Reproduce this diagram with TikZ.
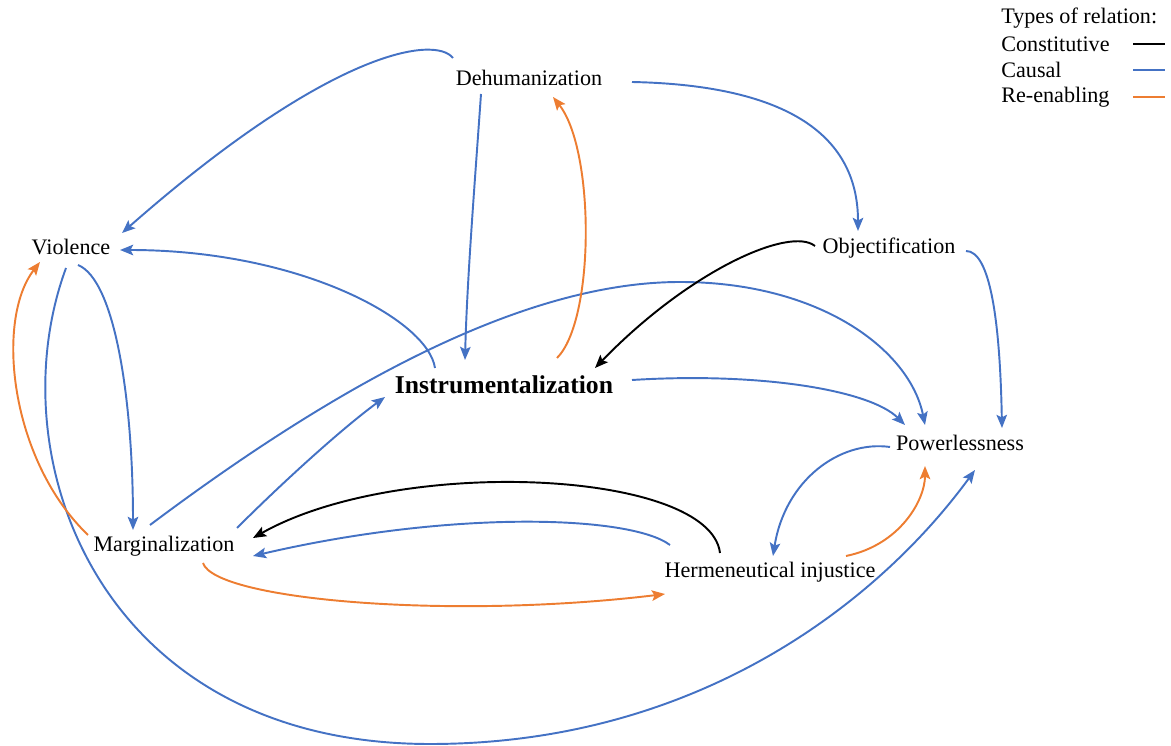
\documentclass[tikz,border=0pt]{standalone}
\usepackage{fontspec}
\setmainfont{Liberation Serif}
\usepackage{tikz}
\usetikzlibrary{positioning,arrows.meta}
\usepackage{xcolor}
\definecolor{causblue}{RGB}{68,114,196}
\definecolor{reorange}{RGB}{237,125,49}

\begin{document}
\begin{tikzpicture}[x=0.02cm,y=-0.02cm,
    lbl/.style={inner sep=0pt,font=\fontsize{12.6}{15}\selectfont},
    causal/.style={line width=1.1pt,causblue,-{Stealth[length=7.5pt,width=6pt,inset=1.5pt]}},
    constit/.style={line width=1.1pt,black,-{Stealth[length=7.5pt,width=6pt,inset=1.5pt]}},
    reenab/.style={line width=1.1pt,reorange,-{Stealth[length=7.5pt,width=6pt,inset=1.5pt]}}]
        \useasboundingbox (0,0) rectangle (1171,746);
        \node[lbl] (dehum) at (529,78) {Dehumanization};
        \node[lbl] (viol) at (71,247) {Violence};
        \node[lbl] (obj) at (889,248) {Objectification};
        \node[lbl,font=\fontsize{14.6}{17}\selectfont\bfseries] (inst) at (504,385) {Instrumentalization};
        \node[lbl] (pow) at (960,443) {Powerlessness};
        \node[lbl] (marg) at (164,546) {Marginalization};
        \node[lbl] (herm) at (770,572) {Hermeneutical injustice};
        % legend
        \node[lbl,anchor=west] (ltitle) at (1001,18) {Types of relation:};
        \node[lbl,anchor=west] (lconst) at (1001,44) {Constitutive};
        \node[lbl,anchor=west] (lcaus) at (1001,70) {Causal};
        \node[lbl,anchor=west] (lreen) at (1001,97) {Re-enabling};
        \draw[line width=1.1pt,black] (1133,44) -- (1165,44);
        \draw[line width=1.1pt,causblue] (1133,70) -- (1165,70);
        \draw[line width=1.1pt,reorange] (1133,97) -- (1165,97);
        % causal
        \draw[causal] ([shift={(-76,-20)}]dehum.center) .. controls +(-18,-23) and +(208,-183) .. ([shift={(51,-14)}]viol.center);
        \draw[causal] ([shift={(-48,16)}]dehum.center) .. controls +(-6,86) and +(2,-80) .. ([shift={(-39,-25)}]inst.center);
        \draw[causal] ([shift={(103,4)}]dehum.center) .. controls +(148,3) and +(0,-100) .. ([shift={(-31,-17)}]obj.center);
        \draw[causal] ([shift={(-69,-17)}]inst.center) .. controls +(-7,-48) and +(180,0) .. ([shift={(49,3)}]viol.center);
        \draw[causal] ([shift={(7,18)}]viol.center) .. controls +(37,15) and +(0,-130) .. ([shift={(-31,-16)}]marg.center);
        \draw[causal] ([shift={(-5,21)}]viol.center) .. controls +(-70,190) and +(-330,0) .. (430,744)
            .. controls +(270,0) and +(-95,130) .. ([shift={(15,27)}]pow.center);
        \draw[causal] ([shift={(-14,-21)}]marg.center) .. controls +(180,-135) and +(-160,0) .. (680,282)
            .. controls +(140,0) and +(-15,-75) .. ([shift={(-35,-18)}]pow.center);
        \draw[causal] ([shift={(73,-18)}]marg.center) .. controls +(43,-43) and +(-45,33) .. ([shift={(-119,12)}]inst.center);
        \draw[causal] ([shift={(128,-5)}]inst.center) .. controls +(128,-8) and +(-35,-35) .. ([shift={(-55,-18)}]pow.center);
        \draw[causal] ([shift={(77,3)}]obj.center) .. controls +(24,0) and +(-2,-108) .. ([shift={(42,-15)}]pow.center);
        \draw[causal] ([shift={(-70,4)}]pow.center) .. controls +(-50,-7) and +(12,-76) .. ([shift={(3,-16)}]herm.center);
        \draw[causal] ([shift={(-100,-27)}]herm.center) .. controls +(-40,-30) and +(197,-46) .. ([shift={(89,10)}]marg.center);
        % constitutive
        \draw[constit] ([shift={(-74,-2)}]obj.center) .. controls +(-25,-20) and +(95,-98) .. ([shift={(91,-17)}]inst.center);
        \draw[constit] ([shift={(-50,-19)}]herm.center) .. controls +(-10,-83) and +(147,-83) .. ([shift={(89,-8)}]marg.center);
        % re-enabling
        \draw[reenab] ([shift={(53,-27)}]inst.center) .. controls +(38,-38) and +(42,53) .. ([shift={(24,19)}]dehum.center);
        \draw[reenab] ([shift={(-76,-11)}]marg.center) .. controls +(-78,-75) and +(-45,58) .. ([shift={(-31,15)}]viol.center);
        \draw[reenab] ([shift={(39,17)}]marg.center) .. controls +(12,37) and +(-215,26) .. ([shift={(-105,22)}]herm.center);
        \draw[reenab] ([shift={(76,-16)}]herm.center) .. controls +(54,-11) and +(0,34) .. ([shift={(-35,23)}]pow.center);
      \end{tikzpicture}
\end{document}
